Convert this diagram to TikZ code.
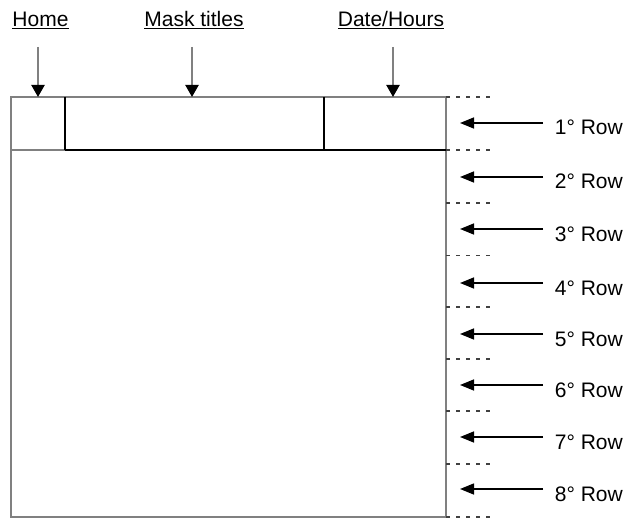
\documentclass[tikz,border=0pt]{standalone}
\usepackage{fontspec}
\setmainfont{Liberation Sans}
\usetikzlibrary{arrows.meta}

\begin{document}
\begin{tikzpicture}[x=1pt,y=-1pt,
  frame/.style={draw=gray,line width=2.2pt},
  inner/.style={draw=black,line width=1.5pt},
  tick/.style={draw=black!75,line width=1.4pt,dash pattern=on 4pt off 6pt},
  title/.style={font=\fontsize{21}{24}\selectfont,inner sep=0pt,anchor=base},
  rowlabel/.style={font=\fontsize{21}{24}\selectfont,inner sep=0pt,anchor=base east},
  downarr/.style={draw=gray,line width=2.2pt,-{Triangle[color=black,length=12pt,width=13pt]}},
  leftarr/.style={draw=black,line width=1.5pt,-{Triangle[length=14pt,width=11pt]}}]
\useasboundingbox (0,0) rectangle (630,519);
% screen
\draw[frame] (11,97) rectangle (446,517);
\draw[frame] (11,150) -- (65,150);
\draw[inner] (65,150) -- (446,150);
\draw[inner] (65,97) -- (65,150);
\draw[inner] (324,97) -- (324,150);
% titles on top
\node[title] (home) at (40.5,27) {\underline{Home}};
\node[title] (mask) at (194,27) {\underline{Mask titles}};
\node[title] (date) at (391,27) {\underline{Date/Hours}};
\coordinate (homeA) at (38,47);  \coordinate (homeB) at (38,97);
\coordinate (maskA) at (192,47); \coordinate (maskB) at (192,97);
\coordinate (dateA) at (393,47); \coordinate (dateB) at (393,97);
\draw[downarr] (homeA) -- (homeB);
\draw[downarr] (maskA) -- (maskB);
\draw[downarr] (dateA) -- (dateB);
% row limits
\draw[tick] (446,97) -- (490,97);
\draw[tick] (446,150) -- (490,150);
\draw[tick] (446,203) -- (490,203);
\draw[tick] (446,255.5) -- (490,255.5);
\draw[tick] (446,307) -- (490,307);
\draw[tick] (446,359) -- (490,359);
\draw[tick] (446,411) -- (490,411);
\draw[tick] (446,464) -- (490,464);
\draw[tick] (446,517) -- (490,517);
% rows
\node[rowlabel] (r1) at (623,135) {1° Row};
\node[rowlabel] (r2) at (623,189) {2° Row};
\node[rowlabel] (r3) at (623,241) {3° Row};
\node[rowlabel] (r4) at (623,295) {4° Row};
\node[rowlabel] (r5) at (623,346) {5° Row};
\node[rowlabel] (r6) at (623,397) {6° Row};
\node[rowlabel] (r7) at (623,449) {7° Row};
\node[rowlabel] (r8) at (623,501) {8° Row};
\coordinate (a1) at (543,123); \coordinate (b1) at (460,123);
\coordinate (a2) at (543,177); \coordinate (b2) at (460,177);
\coordinate (a3) at (543,229); \coordinate (b3) at (460,229);
\coordinate (a4) at (543,283); \coordinate (b4) at (460,283);
\coordinate (a5) at (543,334); \coordinate (b5) at (460,334);
\coordinate (a6) at (543,385); \coordinate (b6) at (460,385);
\coordinate (a7) at (543,437); \coordinate (b7) at (460,437);
\coordinate (a8) at (543,489); \coordinate (b8) at (460,489);
\draw[leftarr] (a1) -- (b1);
\draw[leftarr] (a2) -- (b2);
\draw[leftarr] (a3) -- (b3);
\draw[leftarr] (a4) -- (b4);
\draw[leftarr] (a5) -- (b5);
\draw[leftarr] (a6) -- (b6);
\draw[leftarr] (a7) -- (b7);
\draw[leftarr] (a8) -- (b8);
\end{tikzpicture}
\end{document}
